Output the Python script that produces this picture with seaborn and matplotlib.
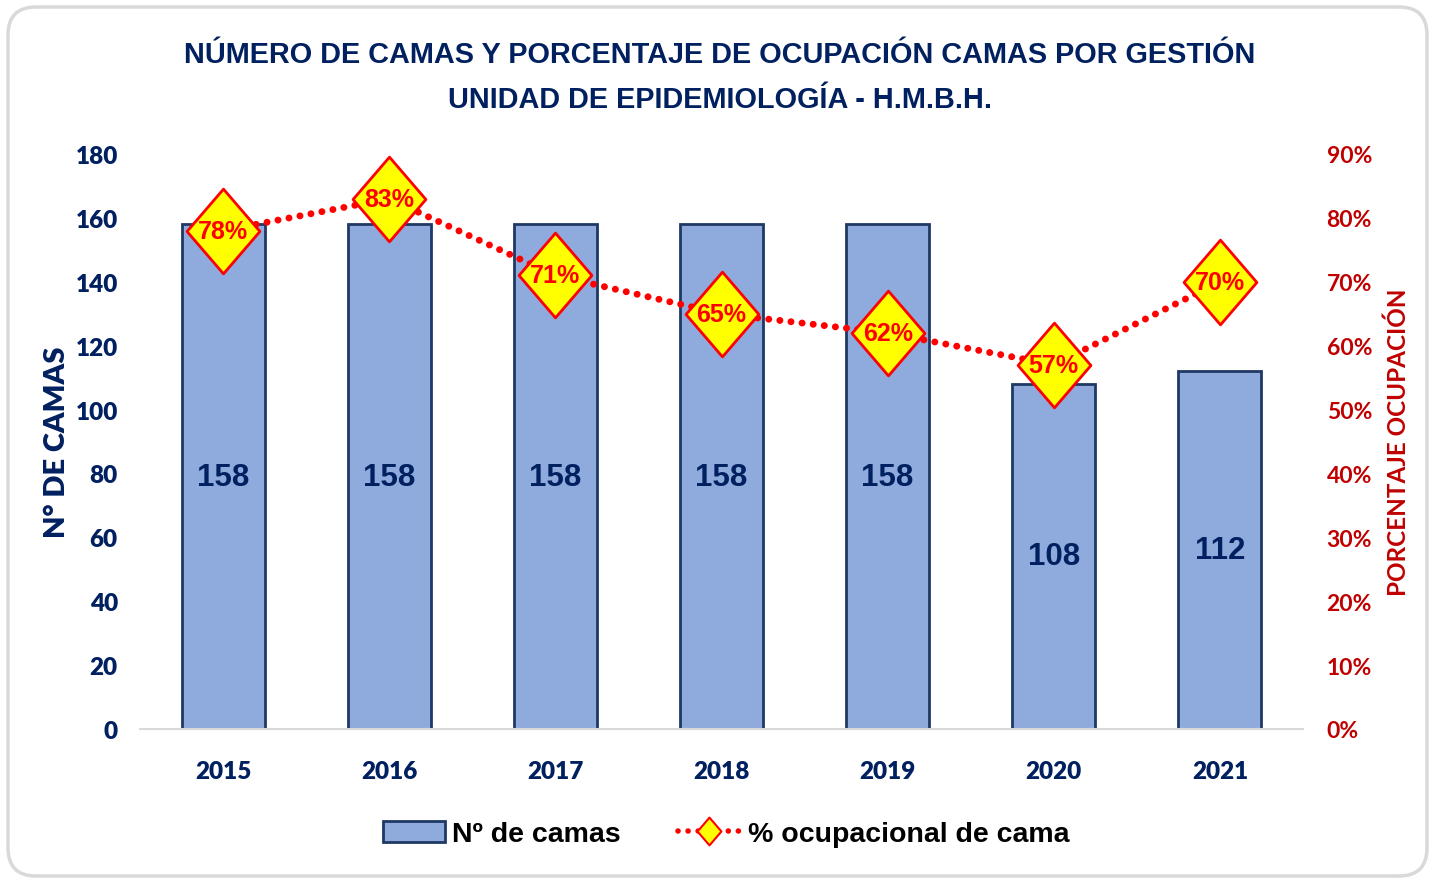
import matplotlib
matplotlib.use("Agg")
import numpy as np
import matplotlib.pyplot as plt
import seaborn as sns
from matplotlib import font_manager
from matplotlib.patches import Patch, FancyBboxPatch
from matplotlib.lines import Line2D
from matplotlib.path import Path
from matplotlib.ticker import PercentFormatter
from matplotlib.transforms import IdentityTransform

# data
years = ["2015", "2016", "2017", "2018", "2019", "2020", "2021"]
camas = [158, 158, 158, 158, 158, 108, 112]
ocupacion = [0.78, 0.83, 0.71, 0.65, 0.62, 0.57, 0.70]

title1 = "NÚMERO DE CAMAS Y PORCENTAJE DE OCUPACIÓN CAMAS POR GESTIÓN"
title2 = "UNIDAD DE EPIDEMIOLOGÍA - H.M.B.H."

navy = "#002060"
red_dark = "#C00000"
bar_color = "#8FAADC"

sns.set_style("white")

names = {f.name for f in font_manager.fontManager.ttflist}
title_font = "Liberation Sans Narrow" if "Liberation Sans Narrow" in names else "Liberation Sans"
title_size = 23 if title_font == "Liberation Sans Narrow" else 20.8
tick_font = "Lato"

fig = plt.figure(figsize=(14.29, 8.79), dpi=100)
ax = fig.add_axes([140 / 1429, 1 - 730 / 879, 1163 / 1429, 575 / 879])

sns.barplot(x=years, y=camas, color=bar_color, edgecolor="#1F3864", linewidth=2,
            width=0.5, saturation=1, ax=ax, zorder=2)
ax.set_ylim(0, 180)
ax.set_yticks(range(0, 181, 20))
ax.set_xlim(-0.5, 6.5)
for s in ["top", "right", "left"]:
    ax.spines[s].set_visible(False)
ax.spines["bottom"].set_color("#D9D9D9")
ax.spines["bottom"].set_linewidth(1.5)
ax.tick_params(axis="y", length=0, pad=16, labelcolor=navy)
ax.tick_params(axis="x", length=0, pad=22, labelcolor=navy)
for lab in ax.get_yticklabels() + ax.get_xticklabels():
    lab.set_fontfamily(tick_font)
    lab.set_fontweight("heavy")
    lab.set_fontsize(17.5)
ax.set_xlabel("")
ax.set_ylabel("N° DE CAMAS", fontfamily=tick_font, fontweight="heavy", fontsize=21, color=navy)
ax.yaxis.set_label_coords(-0.060, 0.5)

for i, v in enumerate(camas):
    ax.text(i, v / 2, str(v), ha="center", va="center", fontsize=22.5, fontweight="bold",
            fontfamily="Liberation Sans", color=navy, zorder=3)

# occupancy line on secondary axis
ax2 = ax.twinx()
diamond = Path([(0, 1), (0.86, 0), (0, -1), (-0.86, 0), (0, 1)],
               [Path.MOVETO, Path.LINETO, Path.LINETO, Path.LINETO, Path.CLOSEPOLY])
sns.lineplot(x=np.arange(len(years)), y=ocupacion, ax=ax2, color="red", lw=5,
             marker=diamond, markersize=61, markerfacecolor="#FFFF00",
             markeredgecolor="red", markeredgewidth=2, zorder=4)
line = ax2.lines[0]
line.set_linestyle((0, (0.01, 1.6)))
line.set_dash_capstyle("round")
ax2.set_ylim(0, 0.9)
ax2.set_yticks(np.arange(0, 0.91, 0.1))
ax2.yaxis.set_major_formatter(PercentFormatter(1.0, decimals=0))
for s in ax2.spines.values():
    s.set_visible(False)
ax2.tick_params(axis="y", length=0, pad=17, labelcolor=red_dark)
for lab in ax2.get_yticklabels():
    lab.set_fontfamily(tick_font)
    lab.set_fontweight("bold")
    lab.set_fontsize(16.5)
ax2.set_ylabel("PORCENTAJE OCUPACIÓN", fontfamily=tick_font, fontsize=17.5,
               fontweight="bold", color=red_dark)
ax2.yaxis.set_label_coords(1.0715, 0.5)

for i, p in enumerate(ocupacion):
    ax2.text(i, p, f"{round(p * 100)}%", ha="center", va="center", fontsize=18,
             fontweight="bold", fontfamily="Liberation Sans", color="red", zorder=6)

# titles
fig.text(0.5035, 1 - 55 / 879, title1, ha="center", va="center", fontsize=title_size,
         fontweight="bold", fontfamily=title_font, color=navy)
fig.text(0.5035, 1 - 100 / 879, title2, ha="center", va="center", fontsize=title_size,
         fontweight="bold", fontfamily=title_font, color=navy)

# legend
handles = [
    Patch(facecolor=bar_color, edgecolor="#1F3864", linewidth=2),
    Line2D([], [], color="red", lw=4, linestyle=(0, (0.01, 1.8)), dash_capstyle="round",
           marker=diamond, markersize=20, markerfacecolor="#FFFF00",
           markeredgecolor="red", markeredgewidth=1.5),
]
leg = fig.legend(handles, ["Nº de camas", "% ocupacional de cama"], loc="center",
                 bbox_to_anchor=(726 / 1429, 1 - 835 / 879), ncol=2, frameon=False,
                 prop={"family": "Liberation Sans", "weight": "bold", "size": 20.5},
                 labelcolor="black", handlelength=2.2, handleheight=0.75,
                 handletextpad=0.25, columnspacing=2.0)

# rounded border
border = FancyBboxPatch((8, 2), 1419, 869, boxstyle="round,pad=0,rounding_size=28",
                        transform=IdentityTransform(), facecolor="none",
                        edgecolor="#D9D9D9", lw=2.5, zorder=0)
fig.patches.append(border)

fig.savefig("out.png", dpi=100)
